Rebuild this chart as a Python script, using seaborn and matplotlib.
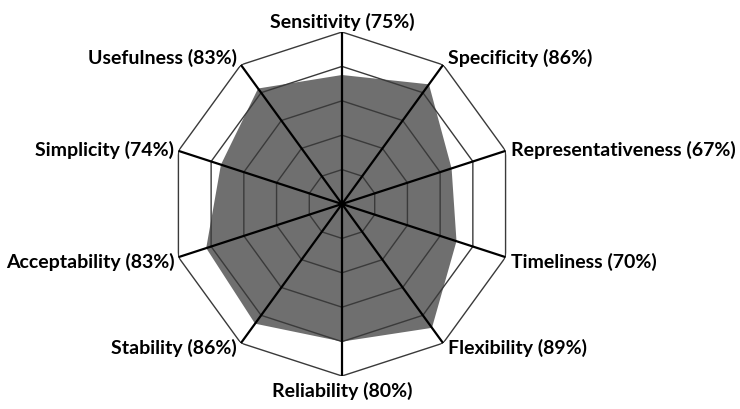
import numpy as np
import matplotlib
matplotlib.use("Agg")
import matplotlib.pyplot as plt
import seaborn as sns

# data (clockwise from top)
categories = ["Sensitivity", "Specificity", "Representativeness", "Timeliness",
              "Flexibility", "Reliability", "Stability", "Acceptability",
              "Simplicity", "Usefulness"]
scores = [75, 86, 67, 70, 89, 80, 86, 83, 74, 83]
grid_levels = [0.2, 0.4, 0.6, 0.8, 1.0]

sns.set_theme(style="white")
plt.rcParams["font.family"] = ["Lato", "DejaVu Sans"]

n = len(categories)
angles = np.linspace(0, 2 * np.pi, n, endpoint=False)
closed = np.append(angles, angles[0])
vals = np.array(scores) / 100.0

fig = plt.figure(figsize=(7.4, 4.1), dpi=100)
ax = fig.add_axes([0.2297, 0.0805, 0.4649, 0.839], projection="polar")
ax.set_theta_zero_location("N")
ax.set_theta_direction(-1)
ax.set_ylim(0, 1)
ax.grid(False)
ax.spines["polar"].set_visible(False)
ax.set_xticks([])
ax.set_yticks([])
ax.patch.set_alpha(0)

# filled series
ax.fill(closed, np.append(vals, vals[0]), color="#6f6f6f", zorder=1, lw=0)

# polygonal grid rings
for lv in grid_levels:
    ax.plot(closed, [lv] * (n + 1), color="#3a3a3a", lw=1.0, zorder=2)

# spokes
for a in angles:
    ax.plot([a, a], [0, 1], color="black", lw=1.6, zorder=3)

# category labels
for a, cat, s in zip(angles, categories, scores):
    deg = np.degrees(a) % 360
    label = f"{cat} ({s}%)"
    if deg < 1:
        ha, va, off = "center", "bottom", (0, 2)
    elif abs(deg - 180) < 1:
        ha, va, off = "center", "top", (0, -5)
    elif deg < 180:
        ha, va = "left", "center"
        off = (5, -4)
        if 40 > deg > 30:
            off = (5, 8)
        elif 75 > deg > 70:
            off = (5, 2)
    else:
        ha, va = "right", "center"
        off = (-4, -4)
        if deg > 320:
            off = (-4, 8)
        elif 290 > deg > 285:
            off = (-4, 2)
    ax.annotate(label, xy=(a, 1.0), xytext=off, textcoords="offset pixels",
                ha=ha, va=va, fontsize=14, fontweight="bold", color="black",
                annotation_clip=False)

fig.savefig("out.png", dpi=100, facecolor="white")
